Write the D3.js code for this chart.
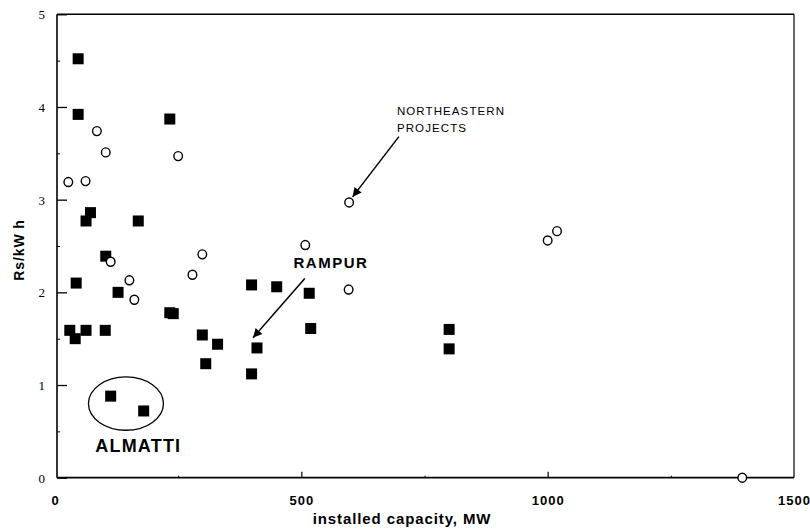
<!DOCTYPE html>
<html>
<head>
<meta charset="utf-8">
<script src="https://cdn.jsdelivr.net/npm/d3@7/dist/d3.min.js"></script>
<style>
html,body{margin:0;padding:0;background:#fff;}
svg{display:block;}
</style>
</head>
<body>
<svg id="chart" width="810" height="529"></svg>
<script>
// Data
const squareX = [47,47,233,72,63,169,103,43,128,233,240,30,41,63,102,299,330,306,399,450,410,399,113,180,516,519,800,800];
const squareY = [4.52,3.92,3.87,2.86,2.77,2.77,2.39,2.10,2.00,1.78,1.77,1.59,1.50,1.59,1.59,1.54,1.44,1.23,2.08,2.06,1.40,1.12,0.88,0.72,1.99,1.61,1.60,1.39];
const circleX = [85,103,27,62,250,299,113,279,151,161,596,597,508,1000,1019,1395];
const circleY = [3.74,3.51,3.19,3.20,3.47,2.41,2.33,2.19,2.13,1.92,2.03,2.97,2.51,2.56,2.66,0.00];
const xTicks = [0,500,1000,1500];
const yTicks = [0,1,2,3,4,5];
const yMinorTicks = [0.5,1.5,2.5,3.5,4.5];
const xMinorTicks = [250,750,1250];
const xTitle = "installed capacity, MW";
const yTitle = "Rs/kW h";

(function(){
const svg = d3.select("#chart");
const x = d3.scaleLinear().domain([0,1500]).range([55,794]);
const y = d3.scaleLinear().domain([0,5]).range([477.7,14.3]);
const pL = 57, pR = 794, pT = 14.3, pB = 477.7;
const sans = "Liberation Sans, Arial, Helvetica, sans-serif";

// y axis ticks (inside)
const yAx = svg.append("g").attr("transform",`translate(${pL},0)`)
  .call(d3.axisLeft(y).tickValues(yTicks).tickSize(-10).tickPadding(12).tickFormat(d3.format("d")));
yAx.select(".domain").remove();
yAx.selectAll("line").attr("stroke","#000").attr("stroke-width",1.3);
yAx.selectAll("text").attr("font-family","Liberation Serif, serif").attr("font-size",13).attr("fill","#000").attr("dy","0.35em");
const yMin = svg.append("g").attr("transform",`translate(${pL},0)`)
  .call(d3.axisLeft(y).tickValues(yMinorTicks).tickSize(-3).tickFormat(""));
yMin.select(".domain").remove();
yMin.selectAll("line").attr("stroke","#000").attr("stroke-width",1);

// x axis ticks (inside)
const xAx = svg.append("g").attr("transform",`translate(0,${pB})`)
  .call(d3.axisBottom(x).tickValues(xTicks).tickSize(-6).tickPadding(18).tickFormat(d3.format("d")));
xAx.select(".domain").remove();
xAx.selectAll("line").attr("stroke","#000").attr("stroke-width",1.2);
xAx.selectAll("line").filter(d=>d===0||d===1500).remove();
xAx.selectAll("text").attr("font-family",sans).attr("font-weight","bold").attr("font-size",13)
  .attr("letter-spacing",1).attr("fill","#000").attr("dy","0.71em");
const xMin = svg.append("g").attr("transform",`translate(0,${pB})`)
  .call(d3.axisBottom(x).tickValues(xMinorTicks).tickSize(-2).tickFormat(""));
xMin.select(".domain").remove();
xMin.selectAll("line").attr("stroke","#000").attr("stroke-width",1);

// frame
svg.append("line").attr("x1",pL).attr("x2",pR).attr("y1",pT).attr("y2",pT).attr("stroke","#000").attr("stroke-width",1.6);
svg.append("line").attr("x1",pL).attr("x2",pR).attr("y1",pB).attr("y2",pB).attr("stroke","#000").attr("stroke-width",1.8);
svg.append("line").attr("x1",pL).attr("x2",pL).attr("y1",pT).attr("y2",pB).attr("stroke","#000").attr("stroke-width",1.6);
svg.append("line").attr("x1",pR).attr("x2",pR).attr("y1",pT).attr("y2",pB).attr("stroke","#000").attr("stroke-width",1.2);

// titles
svg.append("text").attr("x",402).attr("y",524).attr("text-anchor","middle")
  .attr("font-family",sans).attr("font-weight","bold").attr("font-size",15).attr("letter-spacing",0.9).text(xTitle);
svg.append("text").attr("transform","translate(24,250) rotate(-90)").attr("text-anchor","middle")
  .attr("font-family",sans).attr("font-weight","bold").attr("font-size",14).attr("letter-spacing",0.9).text(yTitle);

// points
const squares = squareX.map((v,i)=>({x:v,y:squareY[i]}));
const circles = circleX.map((v,i)=>({x:v,y:circleY[i]}));
const s = 11;
svg.append("g").selectAll("rect").data(squares).join("rect")
  .attr("x",d=>x(d.x)-s/2).attr("y",d=>y(d.y)-s/2).attr("width",s).attr("height",s).attr("fill","#000");
svg.append("g").selectAll("ellipse").data(circles).join("ellipse")
  .attr("cx",d=>x(d.x)).attr("cy",d=>y(d.y)).attr("rx",4.3).attr("ry",4.5)
  .attr("fill","#fff").attr("stroke","#000").attr("stroke-width",1.4);

// annotations
const defs = svg.append("defs");
defs.append("marker").attr("id","arr").attr("viewBox","0 0 10 10").attr("refX",10).attr("refY",5)
  .attr("markerWidth",11).attr("markerHeight",9).attr("markerUnits","userSpaceOnUse").attr("orient","auto")
  .append("path").attr("d","M0,0 L10,5 L0,10 z").attr("fill","#000");

// ALMATTI ellipse
svg.append("ellipse").attr("cx",x(144)).attr("cy",y(0.80)).attr("rx",37.5).attr("ry",26.7)
  .attr("fill","none").attr("stroke","#000").attr("stroke-width",1.3);
svg.append("text").attr("x",x(169)).attr("y",y(0.28)).attr("text-anchor","middle")
  .attr("font-family",sans).attr("font-weight","bold").attr("font-size",18).attr("letter-spacing",1.2).text("ALMATTI");

// RAMPUR
svg.append("text").attr("x",x(560)).attr("y",y(2.26)).attr("text-anchor","middle")
  .attr("font-family",sans).attr("font-weight","bold").attr("font-size",15).attr("letter-spacing",1.5).text("RAMPUR");
svg.append("line").attr("x1",x(507)).attr("y1",y(2.15)).attr("x2",x(402)).attr("y2",y(1.51))
  .attr("stroke","#000").attr("stroke-width",1.5).attr("marker-end","url(#arr)");

// NORTHEASTERN PROJECTS
svg.append("text").attr("x",x(694)).attr("y",y(3.91))
  .attr("font-family",sans).attr("font-size",11.5).attr("letter-spacing",1.1).text("NORTHEASTERN");
svg.append("text").attr("x",x(694)).attr("y",y(3.73))
  .attr("font-family",sans).attr("font-size",11.5).attr("letter-spacing",1.1).text("PROJECTS");
svg.append("line").attr("x1",x(698)).attr("y1",y(3.68)).attr("x2",x(604)).attr("y2",y(3.03))
  .attr("stroke","#000").attr("stroke-width",1.5).attr("marker-end","url(#arr)");
})();
</script>
</body>
</html>
